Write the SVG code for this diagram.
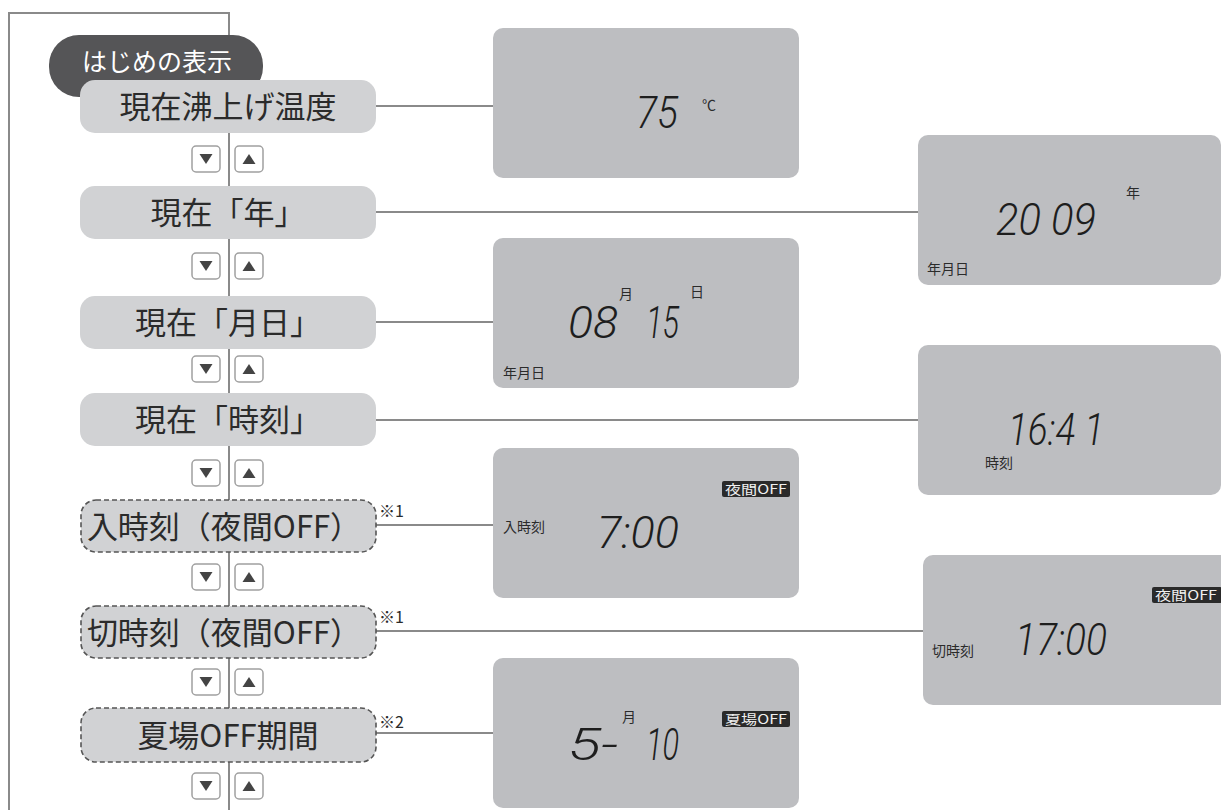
<svg xmlns="http://www.w3.org/2000/svg" width="1221" height="810" viewBox="0 0 1221 810">
<defs>
<style>
.pill{fill:#d1d2d4;}
.dash{fill:#d1d2d4;stroke:#555;stroke-width:1.6;stroke-dasharray:5 3;}
.pt{font-family:"Noto Sans CJK JP","Noto Sans",sans-serif;font-size:31px;fill:#2b2b2b;text-anchor:middle;}
.lcd{fill:#bdbec1;}
.seg{font-family:Roboto,"DejaVu Sans",sans-serif;font-weight:300;font-size:44px;fill:#1e1e1e;font-style:italic;}
.sm{font-family:"Noto Sans CJK JP","Noto Sans",sans-serif;font-size:14px;fill:#2b2b2b;}
.tag{font-family:"Noto Sans CJK JP","Noto Sans",sans-serif;font-size:13px;fill:#f0f0f0;}
.tagbox{fill:#2a2a2a;}
.ln{stroke:#8a8a8a;stroke-width:2;fill:none;}
.btn{fill:#fff;stroke:#a0a0a0;stroke-width:1.5;}
.tri{fill:#444;}
.note{font-family:"Noto Sans CJK JP","Noto Sans",sans-serif;font-size:16px;fill:#2b2b2b;}
</style>
<g id="btns">
<rect class="btn" x="-36" y="-13" width="28" height="26" rx="4"/>
<path class="tri" d="M-28.5,-5 L-15.5,-5 L-22,5 Z"/>
<rect class="btn" x="7" y="-13" width="28" height="26" rx="4"/>
<path class="tri" d="M14.5,5 L27.5,5 L21,-5 Z"/>
</g>
</defs>
<rect width="1221" height="810" fill="#fff"/>

<g id="connectors">
<path class="ln" d="M9,810 V13 H229 V810"/>
<line class="ln" x1="375" y1="106" x2="493" y2="106"/>
<line class="ln" x1="375" y1="212" x2="918" y2="212"/>
<line class="ln" x1="375" y1="322" x2="493" y2="322"/>
<line class="ln" x1="375" y1="420" x2="918" y2="420"/>
<line class="ln" x1="376" y1="525" x2="493" y2="525"/>
<line class="ln" x1="376" y1="631" x2="923" y2="631"/>
<line class="ln" x1="376" y1="733" x2="493" y2="733"/>
</g>

<g id="buttons">
<use href="#btns" x="228" y="159"/>
<use href="#btns" x="228" y="266"/>
<use href="#btns" x="228" y="369"/>
<use href="#btns" x="228" y="473"/>
<use href="#btns" x="228" y="577"/>
<use href="#btns" x="228" y="682"/>
<use href="#btns" x="228" y="786"/>
</g>

<g id="start">
<rect x="49" y="35" width="214" height="62" rx="30" fill="#555557"/>
<text x="157" y="71" font-family="'Noto Sans CJK JP','Noto Sans',sans-serif" font-size="25" fill="#fff" text-anchor="middle">はじめの表示</text>
</g>

<g id="n1"><rect class="pill" x="80" y="80" width="296" height="53" rx="15"/><text class="pt" x="228" y="118">現在沸上げ温度</text></g>
<g id="n2"><rect class="pill" x="80" y="186" width="296" height="53" rx="15"/><text class="pt" x="228" y="224">現在「年」</text></g>
<g id="n3"><rect class="pill" x="80" y="296" width="296" height="53" rx="15"/><text class="pt" x="228" y="334">現在「月日」</text></g>
<g id="n4"><rect class="pill" x="80" y="393" width="296" height="53" rx="15"/><text class="pt" x="228" y="431">現在「時刻」</text></g>
<g id="n5"><rect class="dash" x="81" y="500" width="295" height="52" rx="15"/><text class="pt" x="224" y="538">入時刻（夜間OFF）</text><text class="note" x="379" y="517">※1</text></g>
<g id="n6"><rect class="dash" x="81" y="606" width="295" height="52" rx="15"/><text class="pt" x="224" y="644">切時刻（夜間OFF）</text><text class="note" x="379" y="623">※1</text></g>
<g id="n7"><rect class="dash" x="81" y="708" width="295" height="54" rx="15"/><text class="pt" x="228" y="747">夏場OFF期間</text><text class="note" x="379" y="728">※2</text></g>

<g id="d1"><rect class="lcd" x="493" y="28" width="306" height="150" rx="10"/>
<text class="seg" x="636" y="128" textLength="42" lengthAdjust="spacingAndGlyphs">75</text>
<text class="sm" x="702" y="110" font-size="12">℃</text></g>

<g id="d2"><rect class="lcd" x="918" y="135" width="303" height="150" rx="10"/>
<text class="seg" x="996" y="235" textLength="100" lengthAdjust="spacingAndGlyphs">20 09</text>
<text class="sm" x="1126" y="198" font-size="13">年</text>
<text class="sm" x="927" y="274">年月日</text></g>

<g id="d3"><rect class="lcd" x="493" y="238" width="306" height="150" rx="10"/>
<text class="seg" x="568" y="338" textLength="50" lengthAdjust="spacingAndGlyphs">08</text>
<text class="seg" x="646" y="338" textLength="33" lengthAdjust="spacingAndGlyphs">15</text>
<text class="sm" x="619" y="299" font-size="13">月</text>
<text class="sm" x="690" y="297" font-size="13">日</text>
<text class="sm" x="503" y="378">年月日</text></g>

<g id="d4"><rect class="lcd" x="918" y="345" width="303" height="150" rx="10"/>
<text class="seg" x="1008" y="445" textLength="96" lengthAdjust="spacingAndGlyphs">16:4 1</text>
<text class="sm" x="985" y="468">時刻</text></g>

<g id="d5"><rect class="lcd" x="493" y="448" width="306" height="150" rx="10"/>
<text class="seg" x="597" y="548" textLength="82" lengthAdjust="spacingAndGlyphs">7:00</text>
<text class="sm" x="503" y="532">入時刻</text>
<rect class="tagbox" x="722" y="481" width="68" height="16" rx="2"/>
<text class="tag" x="725" y="494" textLength="62" lengthAdjust="spacingAndGlyphs">夜間OFF</text></g>

<g id="d6"><rect class="lcd" x="923" y="555" width="310" height="150" rx="10"/>
<text class="seg" x="1015" y="655" textLength="92" lengthAdjust="spacingAndGlyphs">17:00</text>
<text class="sm" x="932" y="656">切時刻</text>
<rect class="tagbox" x="1152" y="587" width="70" height="16" rx="2"/>
<text class="tag" x="1155" y="600" textLength="62" lengthAdjust="spacingAndGlyphs">夜間OFF</text></g>

<g id="d7"><rect class="lcd" x="493" y="658" width="306" height="150" rx="10"/>
<text class="seg" x="568" y="760" textLength="50" lengthAdjust="spacingAndGlyphs">5-</text>
<text class="seg" x="646" y="760" textLength="33" lengthAdjust="spacingAndGlyphs">10</text>
<text class="sm" x="622" y="722" font-size="13">月</text>
<rect class="tagbox" x="722" y="711" width="68" height="16" rx="2"/>
<text class="tag" x="725" y="724" textLength="62" lengthAdjust="spacingAndGlyphs">夏場OFF</text></g>
</svg>
